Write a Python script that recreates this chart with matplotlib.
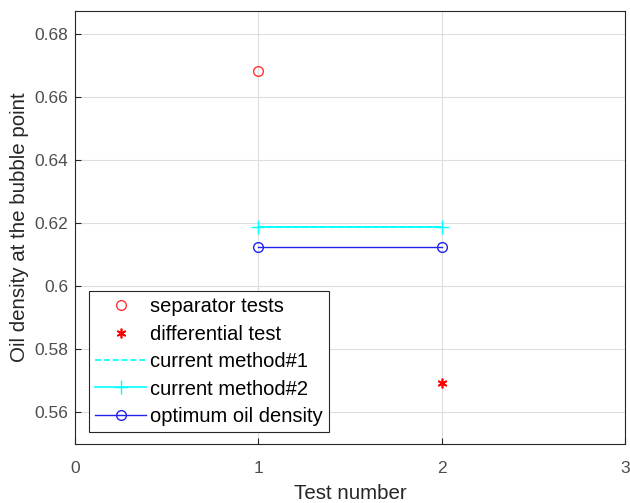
import matplotlib.pyplot as plt

plt.rcParams['font.family'] = ['Liberation Sans', 'DejaVu Sans']

# datos
sep_x = [1]
sep_y = [0.6681]
dif_x = [2]
dif_y = [0.5694]
tests = [1, 2]
metodo1 = [0.6187, 0.6187]
metodo2 = [0.6187, 0.6187]
optimo = [0.6124, 0.6124]

fig = plt.figure(figsize=(6.3, 5.03), dpi=100)
ax = fig.add_axes([0.119, 0.1173, 0.873, 0.861])

ax.plot(sep_x, sep_y, 'o', color='#ff3333', mfc='none', ms=7, mew=1.0, label='separator tests')
ax.plot(dif_x, dif_y, marker=(6, 2, 0), ls='none', color='#ff0000', ms=7, mew=1.2, label='differential test')
ax.plot(tests, metodo1, '--', color='cyan', lw=1.2, label='current method#1')
ax.plot(tests, metodo2, '-+', color='cyan', lw=1.2, ms=10, mew=1.0, label='current method#2')
ax.plot(tests, optimo, '-o', color='#2222ee', mfc='none', lw=1.0, ms=7, mew=1.0, label='optimum oil density')

ax.set_xlim(0, 3)
ax.set_ylim(0.55, 0.6873)
ax.set_xticks([0, 1, 2, 3])
ax.set_yticks([0.56, 0.58, 0.6, 0.62, 0.64, 0.66, 0.68])
ax.set_yticklabels(['0.56', '0.58', '0.6', '0.62', '0.64', '0.66', '0.68'])
ax.grid(True, color='#dddddd', lw=0.8)
ax.set_axisbelow(True)
ax.tick_params(direction='in', length=4, colors='#262626', labelsize=12.5, labelcolor='#4d4d4d')
ax.tick_params(axis='x', pad=12)
ax.tick_params(axis='y', pad=5)
for s in ax.spines.values():
    s.set_color('#262626')
    s.set_linewidth(0.8)

ax.set_xlabel('Test number', fontsize=14.8, color='#262626', labelpad=6)
ax.set_ylabel('Oil density at the bubble point', fontsize=14.8, color='#262626', labelpad=4)

leg = ax.legend(loc='lower left', bbox_to_anchor=(0.0255, 0.0277), fontsize=14.5, handlelength=2.55,
                handletextpad=0.2, labelspacing=0.42, borderpad=0.3, borderaxespad=0,
                fancybox=False, framealpha=1)
leg.get_frame().set_edgecolor('#262626')
leg.get_frame().set_linewidth(0.8)

fig.savefig('out.png', dpi=100)
